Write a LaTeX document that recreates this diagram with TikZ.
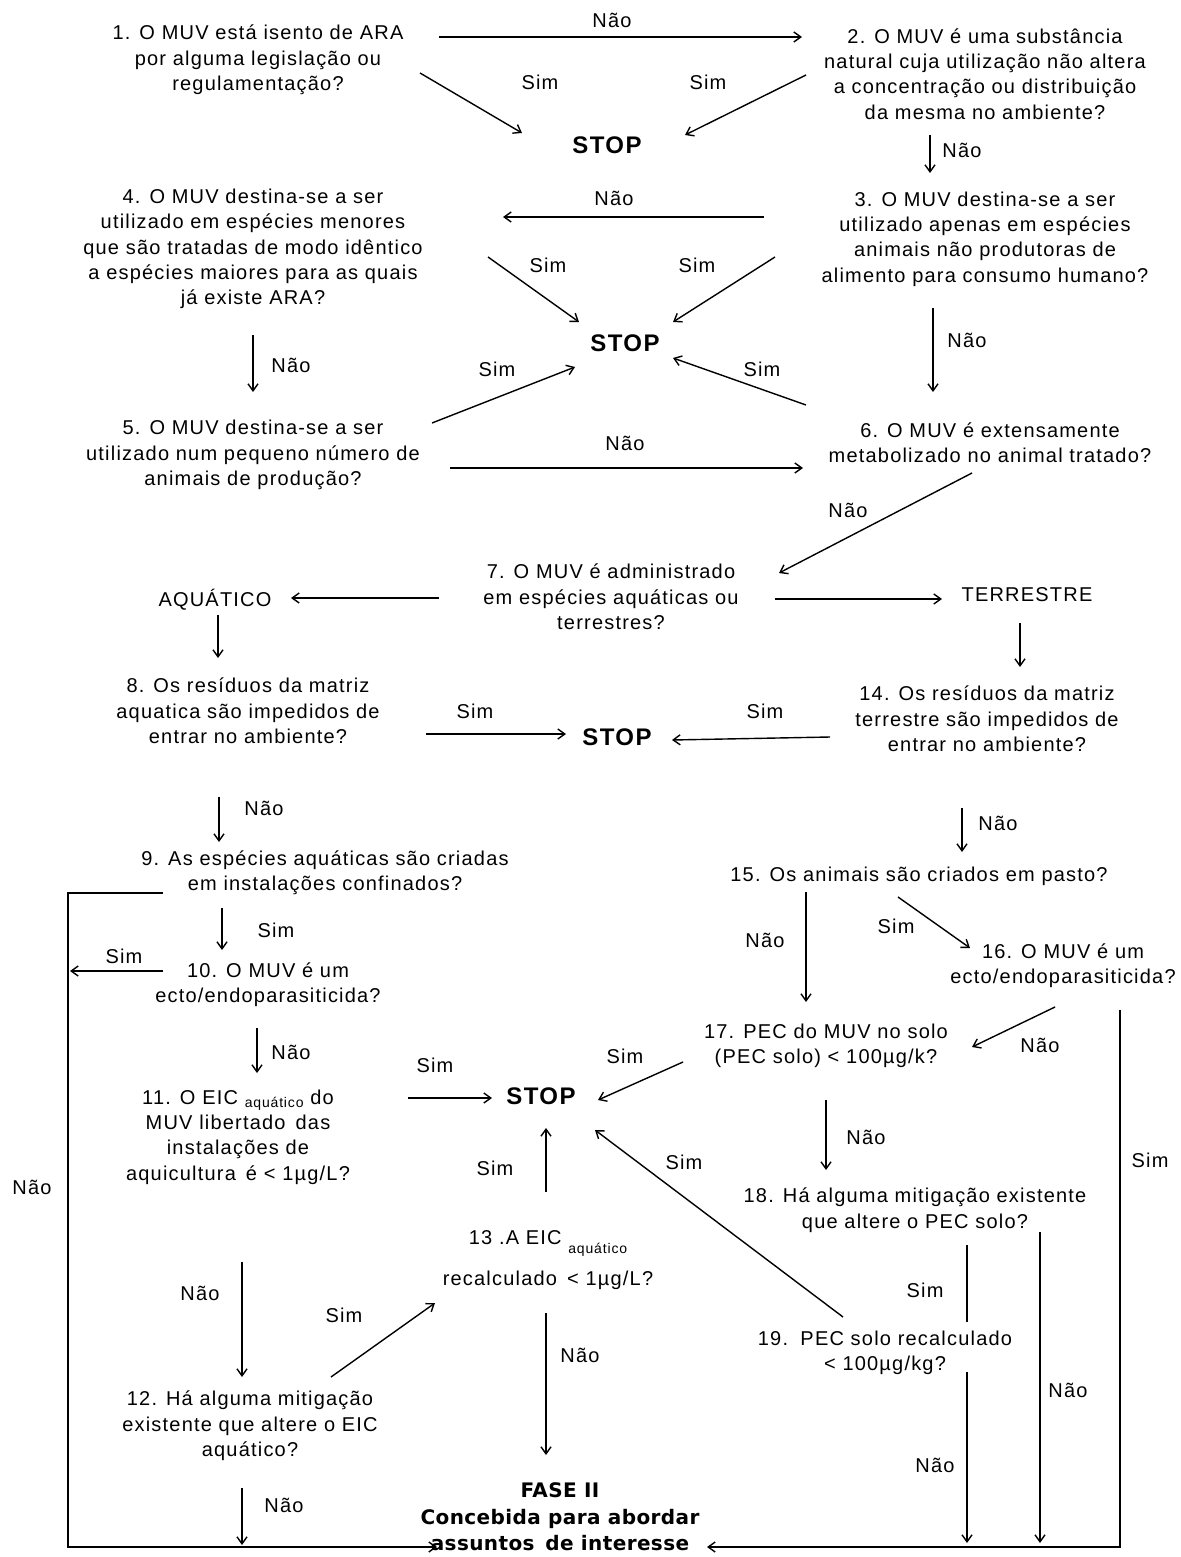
\documentclass[tikz,border=0pt]{standalone}
\usepackage{fontspec}
\setmainfont{Liberation Sans}[LetterSpace=6]
\newfontfamily\fasefont{DejaVu Sans}[LetterSpace=2]
\usetikzlibrary{arrows.meta}

\newcommand{\aqsub}{{\fontsize{7}{8}\selectfont aquático}}

\begin{document}
\begin{tikzpicture}[
                x=0.5pt, y=-0.5pt,
                line width=0.7pt,
                qbox/.style={align=center, inner sep=0pt, font=\fontsize{10}{12.7}\selectfont},
                stopbox/.style={inner sep=0pt, font=\fontsize{12}{14}\selectfont\bfseries},
                lbl/.style={inner sep=0pt, font=\fontsize{10}{12}\selectfont},
                arr/.style={-{Straight Barb[length=3.5pt,width=5pt]}}]

\useasboundingbox (0,0) rectangle (1180,1557);

% questions
\node[qbox] (Q1) at (258,60) {1. O MUV está isento de ARA\\por alguma legislação ou\\regulamentação?};
\node[qbox] (Q2) at (985,74) {2. O MUV é uma substância\\natural cuja utilização não altera\\a concentração ou distribuição\\da mesma no ambiente?};
\node[qbox] (Q3) at (985,239) {3. O MUV destina-se a ser\\utilizado apenas em espécies\\animais não produtoras de\\alimento para consumo humano?};
\node[qbox] (Q4) at (253,249) {4. O MUV destina-se a ser\\utilizado em espécies menores\\que são tratadas de modo idêntico\\a espécies maiores para as quais\\já existe ARA?};
\node[qbox] (Q5) at (253,455) {5. O MUV destina-se a ser\\utilizado num pequeno número de\\animais de produção?};
\node[qbox] (Q6) at (990,443) {6. O MUV é extensamente\\metabolizado no animal tratado?};
\node[qbox] (Q7) at (611,597) {7. O MUV é administrado\\em espécies aquáticas ou\\terrestres?};
\node[qbox] (AQUA) at (215,600) {AQUÁTICO};
\node[qbox] (TERR) at (1027,595) {TERRESTRE};
\node[qbox] (Q8) at (248,711) {8. Os resíduos da matriz\\aquatica são impedidos de\\entrar no ambiente?};
\node[qbox] (Q14) at (987,719) {14. Os resíduos da matriz\\terrestre são impedidos de\\entrar no ambiente?};
\node[qbox] (Q9) at (325,873) {9. As espécies aquáticas são criadas\\em instalações confinados?};
\node[qbox] (Q15) at (919,876) {15. Os animais são criados em pasto?};
\node[qbox] (Q10) at (268,985) {10. O MUV é um\\ecto/endoparasiticida?};
\node[qbox] (Q16) at (1063,966) {16. O MUV é um\\ecto/endoparasiticida?};
\node[qbox] (Q17) at (826,1046) {17. PEC do MUV no solo\\(PEC solo) < 100µg/k?};
\node[qbox] (Q11) at (238,1137) {11. O EIC \raisebox{-1.5pt}{\aqsub} do\\MUV libertado\, das\\instalações de\\aquicultura\, é < 1µg/L?};
\node[qbox] (Q18) at (915,1210) {18. Há alguma mitigação existente\\que altere o PEC solo?};
\node[qbox] (Q13) at (548,1260) {13 .A EIC \raisebox{-4.5pt}[0pt][0pt]{\aqsub}\\[8pt]recalculado\, < 1µg/L?};
\node[qbox] (Q19) at (885,1353) {19.\, PEC solo recalculado\\< 100µg/kg?};
\node[qbox] (Q12) at (250,1426) {12. Há alguma mitigação\\existente que altere o EIC\\aquático?};

% stop and end
\node[stopbox] (STOPA) at (607,145) {STOP};
\node[stopbox] (STOPB) at (625,343) {STOP};
\node[stopbox] (STOPC) at (617,737) {STOP};
\node[stopbox] (STOPD) at (541,1096) {STOP};
\node[qbox, font=\fontsize{10}{13.2}\selectfont\fasefont\bfseries] (FASE) at (560,1517) {FASE II\\Concebida para abordar\\assuntos\, de interesse};

% 1 - 3
\draw[arr] ([shift={(181,-23)}]Q1.center) -- ([shift={(-183,-37)}]Q2.center);
\node[lbl] (L1) at (612,20) {Não};
\draw[arr] ([shift={(162,13)}]Q1.center) -- ([shift={(-85,-12)}]STOPA.center);
\node[lbl] (L2) at (540,82) {Sim};
\draw[arr] ([shift={(-179,1)}]Q2.center) -- ([shift={(78,-10)}]STOPA.center);
\node[lbl] (L3) at (708,82) {Sim};
\draw[arr] ([shift={(-55,61)}]Q2.center) -- ([shift={(-55,-66)}]Q3.center);
\node[lbl] (L4) at (962,150) {Não};

% 3 - 6
\draw[arr] ([shift={(-221,-22)}]Q3.center) -- ([shift={(250,-32)}]Q4.center);
\node[lbl] (L5) at (614,198) {Não};
\draw[arr] ([shift={(235,8)}]Q4.center) -- ([shift={(-46,-21)}]STOPB.center);
\node[lbl] (L6) at (548,265) {Sim};
\draw[arr] ([shift={(-210,18)}]Q3.center) -- ([shift={(48,-21)}]STOPB.center);
\node[lbl] (L7) at (697,265) {Sim};
\draw[arr] ([shift={(0,86)}]Q4.center) -- ([shift={(0,-63)}]Q5.center);
\node[lbl] (L8) at (291,365) {Não};
\draw[arr] ([shift={(-52,69)}]Q3.center) -- ([shift={(-57,-51)}]Q6.center);
\node[lbl] (L9) at (967,340) {Não};
\draw[arr] ([shift={(179,-32)}]Q5.center) -- ([shift={(-50,24)}]STOPB.center);
\node[lbl] (L10) at (497,369) {Sim};
\draw[arr] ([shift={(-184,-38)}]Q6.center) -- ([shift={(48,15)}]STOPB.center);
\node[lbl] (L11) at (762,369) {Sim};
\draw[arr] ([shift={(197,13)}]Q5.center) -- ([shift={(-187,25)}]Q6.center);
\node[lbl] (L12) at (625,443) {Não};

% 7
\draw[arr] ([shift={(-18,30)}]Q6.center) -- ([shift={(168,-24)}]Q7.center);
\node[lbl] (L13) at (848,510) {Não};
\draw[arr] ([shift={(-172,1)}]Q7.center) -- ([shift={(76,-2)}]AQUA.center);
\draw[arr] ([shift={(164,2)}]Q7.center) -- ([shift={(-85,4)}]TERR.center);
\draw[arr] ([shift={(3,15)}]AQUA.center) -- ([shift={(-30,-53)}]Q8.center);
\draw[arr] ([shift={(-7,28)}]TERR.center) -- ([shift={(33,-52)}]Q14.center);

% 8, 14
\draw[arr] ([shift={(178,23)}]Q8.center) -- ([shift={(-51,-3)}]STOPC.center);
\node[lbl] (L14) at (475,711) {Sim};
\draw[arr] ([shift={(-157,18)}]Q14.center) -- ([shift={(55,3)}]STOPC.center);
\node[lbl] (L15) at (765,711) {Sim};
\draw[arr] ([shift={(-29,86)}]Q8.center) -- ([shift={(-106,-31)}]Q9.center);
\node[lbl] (L16) at (264,808) {Não};
\draw[arr] ([shift={(-25,89)}]Q14.center) -- ([shift={(43,-24)}]Q15.center);
\node[lbl] (L17) at (998,823) {Não};

% aquatic branch
\draw[arr] ([shift={(-162,20)}]Q9.center) -- ++(-95,0) |- ([shift={(-123,30)}]FASE.center);
\node[lbl] (L18) at (32,1187) {Não};
\draw[arr] ([shift={(-103,35)}]Q9.center) -- ([shift={(-46,-35)}]Q10.center);
\node[lbl] (L19) at (276,930) {Sim};
\draw[arr] ([shift={(-105,-14)}]Q10.center) -- ([shift={(-198,-14)}]Q10.center);
\node[lbl] (L20) at (124,956) {Sim};
\draw[arr] ([shift={(-11,43)}]Q10.center) -- ([shift={(19,-64)}]Q11.center);
\node[lbl] (L21) at (291,1052) {Não};
\draw[arr] ([shift={(170,-39)}]Q11.center) -- ([shift={(-49,2)}]STOPD.center);
\node[lbl] (L22) at (435,1065) {Sim};
\draw[arr] ([shift={(4,125)}]Q11.center) -- ([shift={(-8,-49)}]Q12.center);
\node[lbl] (L23) at (200,1293) {Não};
\draw[arr] ([shift={(81,-49)}]Q12.center) -- ([shift={(-113,43)}]Q13.center);
\node[lbl] (L24) at (344,1315) {Sim};
\draw[arr] ([shift={(-2,-68)}]Q13.center) -- ([shift={(5,32)}]STOPD.center);
\node[lbl] (L25) at (495,1168) {Sim};
\draw[arr] ([shift={(-2,53)}]Q13.center) -- ([shift={(-14,-62)}]FASE.center);
\node[lbl] (L26) at (580,1355) {Não};
\draw[arr] ([shift={(-8,62)}]Q12.center) -- ([shift={(-318,28)}]FASE.center);
\node[lbl] (L27) at (284,1505) {Não};

% terrestrial branch
\draw[arr] ([shift={(-113,16)}]Q15.center) -- ([shift={(-20,-44)}]Q17.center);
\node[lbl] (L28) at (765,940) {Não};
\draw[arr] ([shift={(-21,21)}]Q15.center) -- ([shift={(-93,-18)}]Q16.center);
\node[lbl] (L29) at (896,926) {Sim};
\draw[arr] ([shift={(-8,41)}]Q16.center) -- ([shift={(146,1)}]Q17.center);
\node[lbl] (L30) at (1040,1045) {Não};
\draw[arr] ([shift={(57,44)}]Q16.center) |- ([shift={(147,30)}]FASE.center);
\node[lbl] (L31) at (1150,1160) {Sim};
\draw[arr] ([shift={(-143,16)}]Q17.center) -- ([shift={(57,4)}]STOPD.center);
\node[lbl] (L32) at (625,1056) {Sim};
\draw[arr] ([shift={(0,54)}]Q17.center) -- ([shift={(-89,-40)}]Q18.center);
\node[lbl] (L33) at (866,1137) {Não};
\draw[arr] ([shift={(-42,-36)}]Q19.center) -- ([shift={(54,34)}]STOPD.center);
\node[lbl] (L34) at (684,1162) {Sim};
\draw ([shift={(52,35)}]Q18.center) -- ([shift={(82,-31)}]Q19.center);
\node[lbl] (L35) at (925,1290) {Sim};
\draw[arr] ([shift={(82,19)}]Q19.center) -- ([shift={(407,26)}]FASE.center);
\node[lbl] (L36) at (935,1465) {Não};
\draw[arr] ([shift={(125,22)}]Q18.center) -- ([shift={(480,26)}]FASE.center);
\node[lbl] (L37) at (1068,1390) {Não};

\end{tikzpicture}
\end{document}
